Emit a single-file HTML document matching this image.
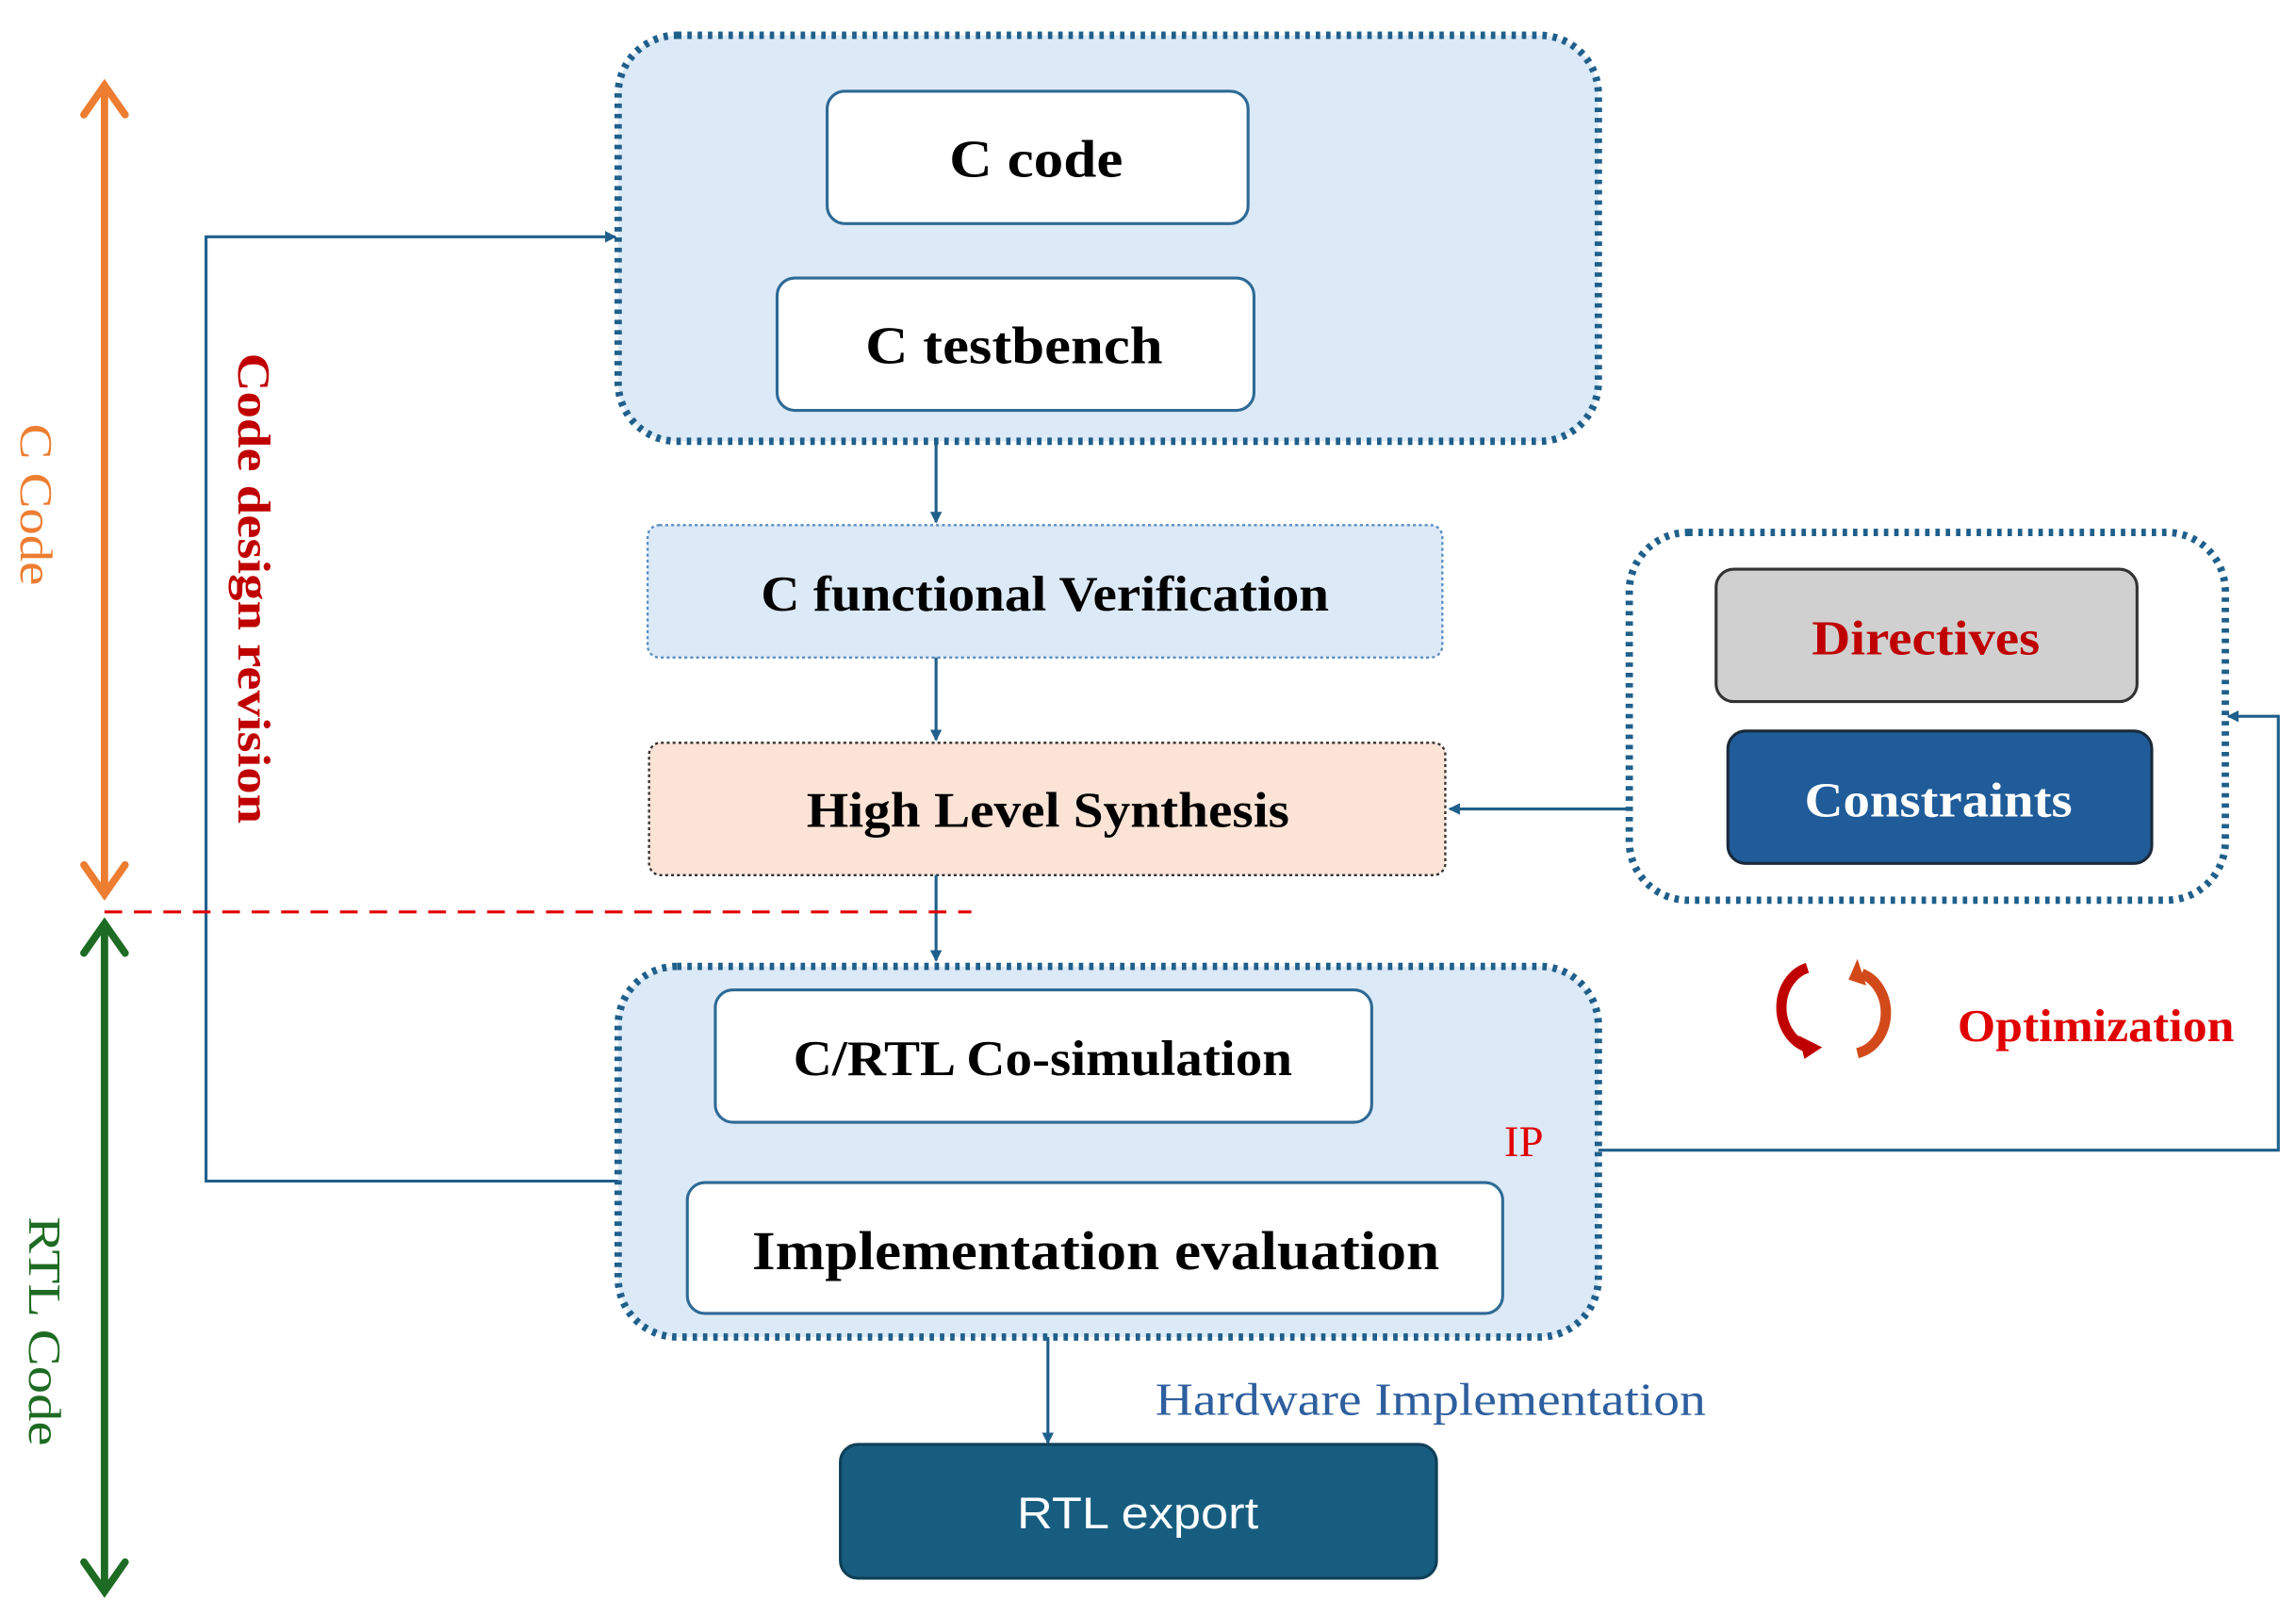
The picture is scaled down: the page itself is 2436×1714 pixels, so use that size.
<!DOCTYPE html>
<html><head><meta charset="utf-8"><style>
html,body{margin:0;padding:0;background:#fff;}
svg{display:block}
.t{font-family:"Liberation Serif",serif;font-weight:bold;}
</style></head><body>
<svg width="2436" height="1714" viewBox="0 0 1560 1098" preserveAspectRatio="none" xmlns="http://www.w3.org/2000/svg">
<defs>
<marker id="a" markerWidth="8" markerHeight="8" refX="7" refY="4" orient="auto" markerUnits="userSpaceOnUse"><path d="M0,0 L8,4 L0,8 z" fill="#1f5f8b"/></marker>
</defs>
<rect x="420" y="24" width="666" height="276" rx="40" fill="#dce9f6" stroke="#1f5f8b" stroke-width="5" stroke-dasharray="3 4"/>
<rect x="420" y="657" width="666" height="252" rx="40" fill="#dce9f6" stroke="#1f5f8b" stroke-width="5" stroke-dasharray="3 4"/>
<rect x="1107" y="362" width="405" height="250" rx="40" fill="#fff" stroke="#1f5f8b" stroke-width="5" stroke-dasharray="3 4"/>
<rect x="562" y="62" width="286" height="90" rx="12" fill="#fff" stroke="#2e6a96" stroke-width="2"/>
<text class="t" x="645" y="120" font-size="36" textLength="118" lengthAdjust="spacingAndGlyphs">C code</text>
<rect x="528" y="189" width="324" height="90" rx="12" fill="#fff" stroke="#2e6a96" stroke-width="2"/>
<text class="t" x="588" y="247" font-size="36" textLength="202" lengthAdjust="spacingAndGlyphs">C testbench</text>
<rect x="440" y="357" width="540" height="90" rx="8" fill="#dce9f6" stroke="#5a8ec4" stroke-width="1.5" stroke-dasharray="2 2"/>
<text class="t" x="517" y="415" font-size="34" textLength="386" lengthAdjust="spacingAndGlyphs">C functional Verification</text>
<rect x="441" y="505" width="541" height="90" rx="8" fill="#fbe3d6" stroke="#333" stroke-width="1.5" stroke-dasharray="2 2"/>
<text class="t" x="548" y="562" font-size="34" textLength="328" lengthAdjust="spacingAndGlyphs">High Level Synthesis</text>
<rect x="486" y="673" width="446" height="90" rx="12" fill="#fff" stroke="#2e6a96" stroke-width="2"/>
<text class="t" x="539" y="731" font-size="34" textLength="339" lengthAdjust="spacingAndGlyphs">C/RTL Co-simulation</text>
<rect x="467" y="804" width="554" height="89" rx="12" fill="#fff" stroke="#2e6a96" stroke-width="2"/>
<text class="t" x="511" y="863" font-size="37" textLength="467" lengthAdjust="spacingAndGlyphs">Implementation evaluation</text>
<text x="1022" y="786" font-size="30" fill="#e00000" font-family="Liberation Serif,serif">IP</text>
<rect x="571" y="982" width="405" height="91" rx="12" fill="#175d80" stroke="#0f3f58" stroke-width="2"/>
<text x="691" y="1039" font-size="30" fill="#fff" font-family="Liberation Sans,sans-serif" textLength="164" lengthAdjust="spacingAndGlyphs">RTL export</text>
<text x="785" y="962" font-size="31" fill="#2e5f9e" font-family="Liberation Serif,serif" textLength="374" lengthAdjust="spacingAndGlyphs">Hardware Implementation</text>
<rect x="1166" y="387" width="286" height="90" rx="12" fill="#d0d0d0" stroke="#333" stroke-width="2"/>
<text class="t" x="1231" y="445" font-size="33" fill="#c00000" textLength="155" lengthAdjust="spacingAndGlyphs">Directives</text>
<rect x="1174" y="497" width="288" height="90" rx="12" fill="#1f5c99" stroke="#1a2a3a" stroke-width="2"/>
<text class="t" x="1226" y="555" font-size="33" fill="#fff" textLength="182" lengthAdjust="spacingAndGlyphs">Constraints</text>
<g stroke="#1f5f8b" stroke-width="2" fill="none">
<line x1="636" y1="300" x2="636" y2="355" marker-end="url(#a)"/>
<line x1="636" y1="447" x2="636" y2="503" marker-end="url(#a)"/>
<line x1="636" y1="595" x2="636" y2="653" marker-end="url(#a)"/>
<line x1="712" y1="909" x2="712" y2="981" marker-end="url(#a)"/>
<line x1="1107" y1="550" x2="985" y2="550" marker-end="url(#a)"/>
<polyline points="1086,782 1548,782 1548,487 1514,487" marker-end="url(#a)"/>
<polyline points="420,803 140,803 140,161 418,161" marker-end="url(#a)"/>
</g>
<g stroke="#ed7d31" stroke-width="5" fill="none" stroke-linecap="round">
<line x1="71" y1="58" x2="71" y2="606"/>
<polyline points="57,78 71,58 85,78"/><polyline points="57,588 71,608 85,588"/>
</g>
<g stroke="#1e6b23" stroke-width="5" fill="none" stroke-linecap="round">
<line x1="71" y1="628" x2="71" y2="1082"/>
<polyline points="57,648 71,628 85,648"/><polyline points="57,1062 71,1082 85,1062"/>
</g>
<line x1="71" y1="620" x2="660" y2="620" stroke="#e00000" stroke-width="2" stroke-dasharray="12 8"/>
<text x="0" y="0" font-size="31" fill="#ed7d31" font-family="Liberation Serif,serif" textLength="110" lengthAdjust="spacingAndGlyphs" transform="translate(14,288) rotate(90)">C Code</text>
<text x="0" y="0" font-size="31" fill="#1e6b23" font-family="Liberation Serif,serif" textLength="156" lengthAdjust="spacingAndGlyphs" transform="translate(20,827) rotate(90)">RTL Code</text>
<text class="t" x="0" y="0" font-size="31" fill="#c00000" textLength="320" lengthAdjust="spacingAndGlyphs" transform="translate(162,240) rotate(90)">Code design revision</text>
<g fill="none" stroke-width="7">
<path d="M1228,658 A24,28 0 0 0 1228,712" stroke="#c00000"/>
<path d="M1262,716 A24,28 0 0 0 1265,662" stroke="#d24a1a"/>
</g>
<path d="M1222,704 L1238,712 L1226,720 z" fill="#c00000"/>
<path d="M1262,652 L1268,670 L1256,666 z" fill="#d24a1a"/>
<text class="t" x="1330" y="708" font-size="31" fill="#e00000" textLength="188" lengthAdjust="spacingAndGlyphs">Optimization</text>
</svg>
</body></html>
